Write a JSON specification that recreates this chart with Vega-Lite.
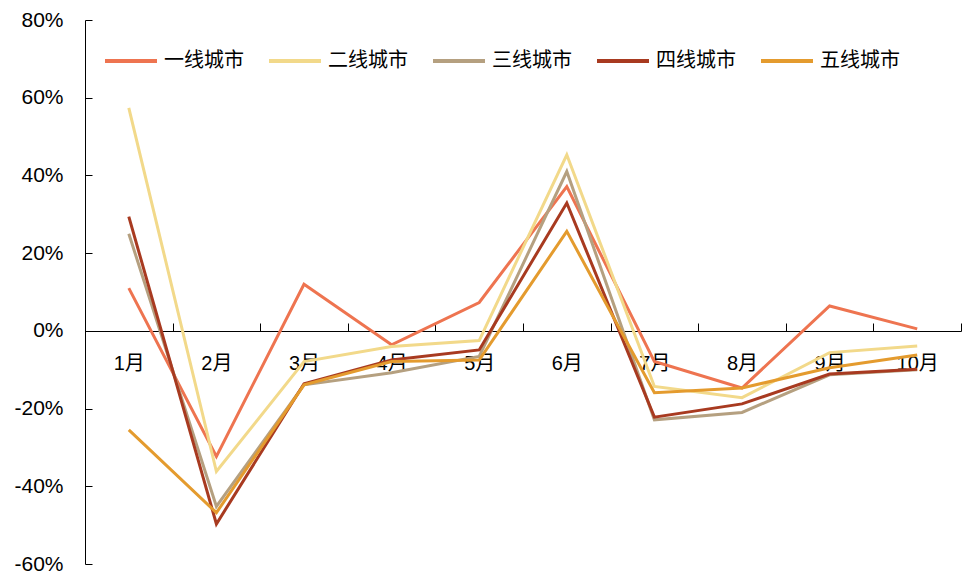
{
  "$schema": "https://vega.github.io/schema/vega-lite/v6.json",
  "autosize": "none",
  "width": 876,
  "height": 544,
  "padding": {"left": 85, "top": 20, "right": 7, "bottom": 11},
  "background": "white",
  "config": {"view": {"stroke": null}},
  "data": {
    "values": [
      {"month": "1月", "city": "一线城市", "v": 11},
      {"month": "2月", "city": "一线城市", "v": -32.3},
      {"month": "3月", "city": "一线城市", "v": 12},
      {"month": "4月", "city": "一线城市", "v": -3.6},
      {"month": "5月", "city": "一线城市", "v": 7.3},
      {"month": "6月", "city": "一线城市", "v": 37.1},
      {"month": "7月", "city": "一线城市", "v": -7.9},
      {"month": "8月", "city": "一线城市", "v": -14.7},
      {"month": "9月", "city": "一线城市", "v": 6.4},
      {"month": "10月", "city": "一线城市", "v": 0.5},
      {"month": "1月", "city": "二线城市", "v": 57.4},
      {"month": "2月", "city": "二线城市", "v": -36.2},
      {"month": "3月", "city": "二线城市", "v": -7.9},
      {"month": "4月", "city": "二线城市", "v": -4},
      {"month": "5月", "city": "二线城市", "v": -2.5},
      {"month": "6月", "city": "二线城市", "v": 45.3},
      {"month": "7月", "city": "二线城市", "v": -14.3},
      {"month": "8月", "city": "二线城市", "v": -17.2},
      {"month": "9月", "city": "二线城市", "v": -5.6},
      {"month": "10月", "city": "二线城市", "v": -3.9},
      {"month": "1月", "city": "三线城市", "v": 25},
      {"month": "2月", "city": "三线城市", "v": -45.2},
      {"month": "3月", "city": "三线城市", "v": -13.9},
      {"month": "4月", "city": "三线城市", "v": -10.8},
      {"month": "5月", "city": "三线城市", "v": -6.6},
      {"month": "6月", "city": "三线城市", "v": 41},
      {"month": "7月", "city": "三线城市", "v": -22.9},
      {"month": "8月", "city": "三线城市", "v": -21},
      {"month": "9月", "city": "三线城市", "v": -11.3},
      {"month": "10月", "city": "三线城市", "v": -10},
      {"month": "1月", "city": "四线城市", "v": 29.4},
      {"month": "2月", "city": "四线城市", "v": -49.7},
      {"month": "3月", "city": "四线城市", "v": -13.6},
      {"month": "4月", "city": "四线城市", "v": -7.5},
      {"month": "5月", "city": "四线城市", "v": -4.9},
      {"month": "6月", "city": "四线城市", "v": 32.9},
      {"month": "7月", "city": "四线城市", "v": -22.2},
      {"month": "8月", "city": "四线城市", "v": -18.8},
      {"month": "9月", "city": "四线城市", "v": -11.1},
      {"month": "10月", "city": "四线城市", "v": -9.9},
      {"month": "1月", "city": "五线城市", "v": -25.5},
      {"month": "2月", "city": "五线城市", "v": -46.8},
      {"month": "3月", "city": "五线城市", "v": -13.9},
      {"month": "4月", "city": "五线城市", "v": -7.9},
      {"month": "5月", "city": "五线城市", "v": -7.5},
      {"month": "6月", "city": "五线城市", "v": 25.6},
      {"month": "7月", "city": "五线城市", "v": -15.9},
      {"month": "8月", "city": "五线城市", "v": -14.7},
      {"month": "9月", "city": "五线城市", "v": -9.5},
      {"month": "10月", "city": "五线城市", "v": -6.2}
    ]
  },
  "mark": {"type": "line", "strokeWidth": 3, "interpolate": "linear"},
  "encoding": {
    "x": {
      "field": "month",
      "type": "nominal",
      "sort": ["1月", "2月", "3月", "4月", "5月", "6月", "7月", "8月", "9月", "10月"],
      "scale": {"type": "band", "paddingInner": 0, "paddingOuter": 0},
      "axis": {
        "title": null,
        "orient": "bottom",
        "offset": -233,
        "labelAngle": 0,
        "tickBand": "extent",
        "tickSize": -8,
        "tickColor": "#000",
        "domainColor": "#000",
        "labelPadding": 30,
        "labelFont": "Liberation Sans, Noto Sans CJK SC",
        "labelFontSize": 20,
        "labelColor": "#000",
        "grid": false
      }
    },
    "y": {
      "field": "v",
      "type": "quantitative",
      "scale": {"domain": [-60, 80], "nice": false, "zero": false},
      "axis": {
        "title": null,
        "values": [-60, -40, -20, 0, 20, 40, 60, 80],
        "labelExpr": "datum.value + '%'",
        "tickSize": -7,
        "tickColor": "#000",
        "domainColor": "#000",
        "labelPadding": 29,
        "labelFont": "Liberation Sans",
        "labelFontSize": 21,
        "labelColor": "#000",
        "grid": false
      }
    },
    "color": {
      "field": "city",
      "type": "nominal",
      "sort": ["一线城市", "二线城市", "三线城市", "四线城市", "五线城市"],
      "scale": {
        "domain": ["一线城市", "二线城市", "三线城市", "四线城市", "五线城市"],
        "range": ["#EE7450", "#F2D98A", "#B5A080", "#A83A20", "#E49B2E"]
      },
      "legend": {
        "title": null,
        "orient": "none",
        "legendX": 18,
        "legendY": 13,
        "direction": "horizontal",
        "columns": 5,
        "symbolType": "stroke",
        "symbolSize": 2704,
        "symbolStrokeWidth": 4,
        "labelOffset": 5,
        "columnPadding": 17,
        "labelFont": "Noto Sans CJK SC",
        "labelFontSize": 20,
        "labelColor": "#000"
      }
    }
  }
}
